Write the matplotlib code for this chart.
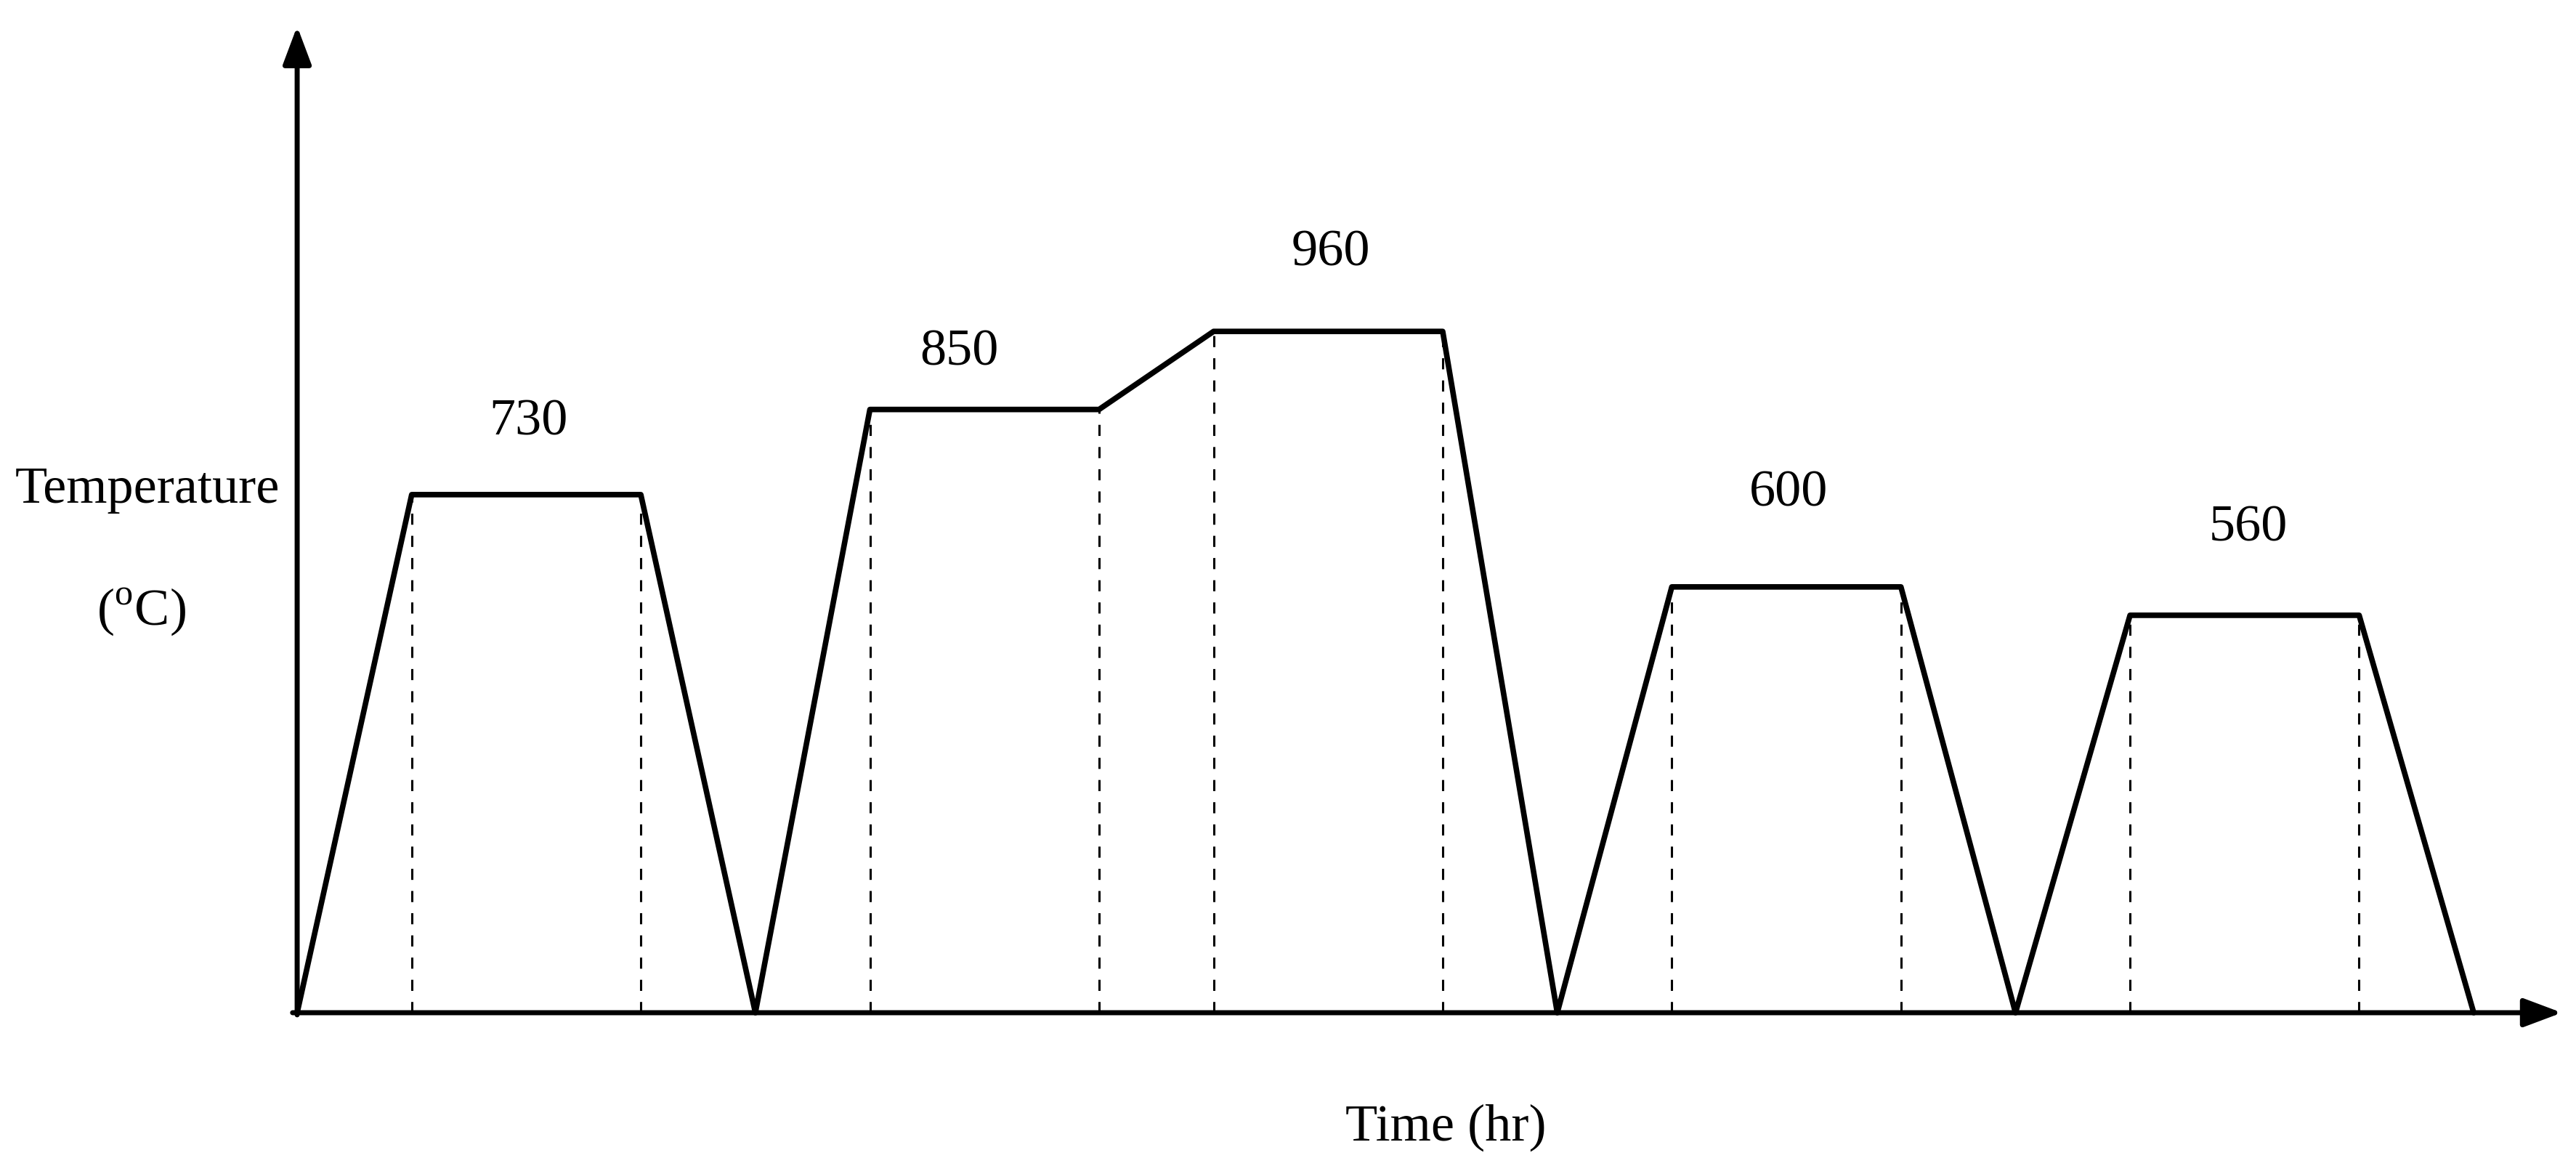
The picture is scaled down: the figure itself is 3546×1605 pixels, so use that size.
import matplotlib.pyplot as plt

plt.rcParams['font.family'] = ['Liberation Serif', 'DejaVu Serif']
plt.rcParams['mathtext.fontset'] = 'custom'
plt.rcParams['mathtext.rm'] = 'Liberation Serif'

# heat-treatment cycle: time in arbitrary units, temperature in deg C
time_hr = [0, 1, 3, 4, 5, 7, 8, 10, 11, 12, 14, 15, 16, 18, 19]
temp_c = [0, 730, 730, 0, 850, 850, 960, 960, 0, 600, 600, 0, 560, 560, 0]

# plateau labels
hold_temps = [730, 850, 960, 600, 560]
label_x = [2.02, 5.78, 9.02, 13.02, 17.03]
label_y = [815, 914, 1054, 715, 666]

# ends of each hold, where the dashed guides drop to the time axis
hold_ends = [(1, 3, 730), (5, 7, 850), (8, 10, 960), (12, 14, 600), (16, 18, 560)]

fig = plt.figure(figsize=(35.46, 16.06), dpi=100)
ax = fig.add_axes([0, 0, 1, 1])
ax.set_xlim(-2.594, 19.893)
ax.set_ylim(-216, 1428)
ax.axis('off')

# dashed guides
for t0, t1, T in hold_ends:
    ax.vlines([t0, t1], 0, T, colors='black', linewidth=2.2,
              linestyles=(0, (5, 5)), zorder=1)

# axes with arrows
arrow = dict(arrowstyle='-|>,head_length=0.8,head_width=0.3', color='black',
             lw=5, shrinkA=0, shrinkB=0, mutation_scale=40)
ax.annotate('', xy=(0, 1390), xytext=(0, -3), arrowprops=arrow)
ax.annotate('', xy=(19.77, 0), xytext=(-0.04, 0), arrowprops=arrow)

# temperature profile
ax.plot(time_hr, temp_c, color='black', lw=5.5, solid_joinstyle='round',
        solid_capstyle='round', zorder=3)

for x, y, T in zip(label_x, label_y, hold_temps):
    ax.text(x, y, str(T), fontsize=52, ha='center', va='baseline')

ax.text(-1.31, 720, 'Temperature', fontsize=52, ha='center', va='baseline')
ax.text(-1.36, 548, r'($^{\mathrm{o}}$C)', fontsize=52, ha='center', va='baseline')
ax.text(10.03, -179, 'Time (hr)', fontsize=52, ha='center', va='baseline')

fig.savefig('out.png', dpi=100)
